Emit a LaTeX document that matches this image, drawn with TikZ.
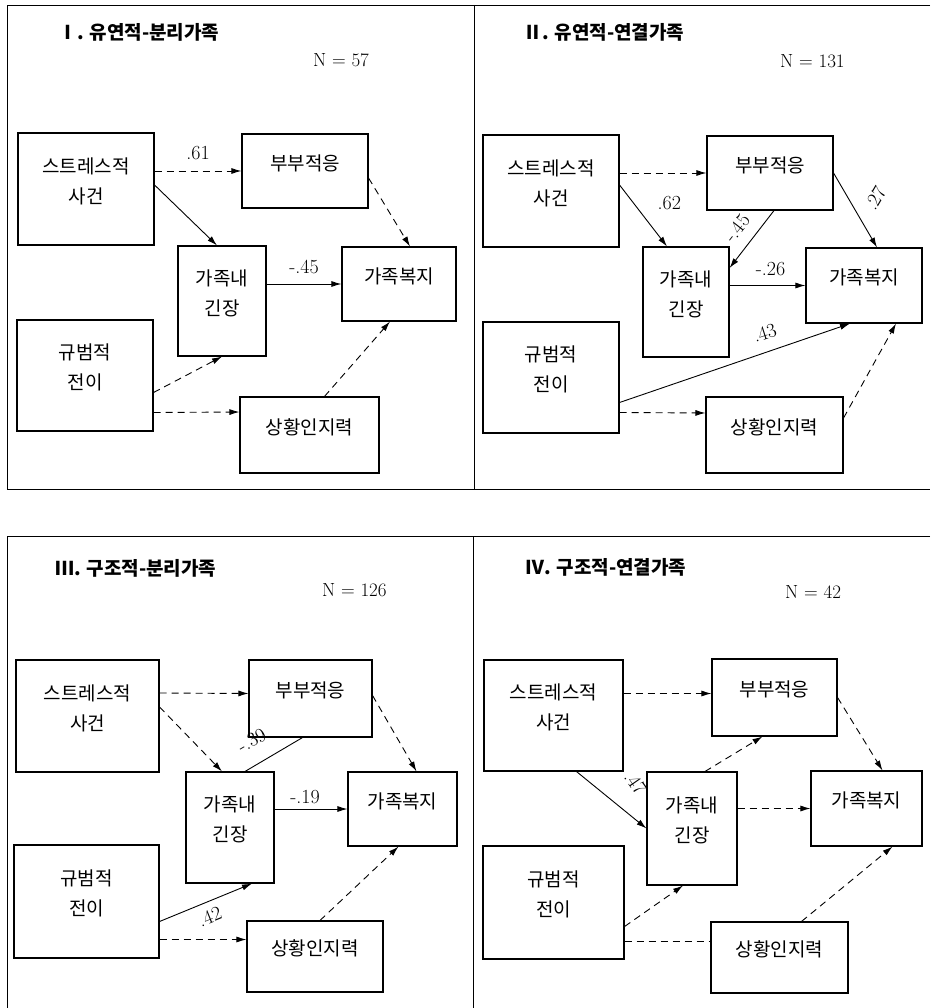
\documentclass[tikz,border=0pt]{standalone}
\usepackage{fontspec}
\newfontfamily\kr{Noto Sans CJK KR}
\usetikzlibrary{arrows.meta,fit}

\begin{document}
\begin{tikzpicture}[x=1pt,y=-1pt,
  box/.style={draw, line width=1.1pt, inner sep=0pt, align=left, font=\kr\fontsize{19}{30}\selectfont},
  sol/.style={line width=.9pt, -{Latex[length=10pt,width=6pt]}},
  das/.style={sol, dash pattern=on 7pt off 5pt},
  coef/.style={font=\fontsize{20}{20}\selectfont, inner sep=0pt},
  ttl/.style={anchor=west, font=\kr\bfseries\fontsize{19}{19}\selectfont, inner sep=0pt},
  nn/.style={anchor=west, font=\fontsize{19}{19}\selectfont, inner sep=0pt}]
\fill[white] (0,0) rectangle (930,1008);
\useasboundingbox (0,0) rectangle (930,1008);

% frames
\draw[line width=.9pt] (930,5) -- (7,5) -- (7,489) -- (930,489);
\draw[line width=.9pt] (474,5) -- (474,489);
\draw[line width=.9pt] (930,536) -- (7,536) -- (7,1008);
\draw[line width=.9pt] (473,536) -- (473,1008);

% panel I
\node[ttl] (hd1) at (58,32) {Ⅰ. 유연적-분리가족};
\node[nn] (nc1) at (313,60) {N = 57};
\node[box, fit={(18,133) (154,245)}] (s1) {스트레스적\\사건};
\node[box, fit={(242,134) (368,208)}] (b1) {부부적응};
\node[box, fit={(178,246) (266,356)}] (t1) {가족내\\긴장};
\node[box, fit={(342,247) (456,321)}] (w1) {가족복지};
\node[box, fit={(17,320) (153,431)}] (n1) {규범적\\전이};
\node[box, fit={(240,397) (379,473)}] (c1) {상황인지력};
\draw[das] (s1.east |- b1.west) -- (b1.west) node[coef, midway, yshift=18pt] {.61};
\draw[sol] ([yshift=4pt]s1.east) -- ([xshift=-5pt]t1.north);
\draw[sol] (t1.east |- w1.west) -- (w1.west) node[coef, midway, yshift=17pt] {-.45};
\draw[das] ([yshift=-7pt]b1.east) -- ([xshift=11pt]w1.north);
\draw[das] ([yshift=-17pt]n1.east) -- (t1.south);
\draw[das] ([yshift=-37pt]n1.east) -- ([yshift=23pt]c1.west);
\draw[das] ([xshift=15pt]c1.north) -- ([xshift=-9pt]w1.south);

% panel II
\node[ttl] (hd2) at (523,32) {Ⅱ. 유연적-연결가족};
\node[nn] (nc2) at (780,61) {N = 131};
\node[box, fit={(483,135) (619,247)}] (s2) {스트레스적\\사건};
\node[box, fit={(707,136) (833,210)}] (b2) {부부적응};
\node[box, fit={(643,247) (729,357)}] (t2) {가족내\\긴장};
\node[box, fit={(806,248) (922,323)}] (w2) {가족복지};
\node[box, fit={(483,322) (619,433)}] (n2) {규범적\\전이};
\node[box, fit={(706,397) (843,473)}] (c2) {상황인지력};
\draw[das] (s2.east |- b2.west) -- (b2.west);
\draw[sol] ([yshift=6pt]s2.east) -- ([xshift=-19pt]t2.north)
  node[coef, midway, xshift=26pt, yshift=13pt] {.62};
\draw[sol] ([xshift=4pt]b2.south) -- ([yshift=34pt]t2.east)
  node[coef, midway, xshift=-15pt, yshift=11pt, rotate=52] {-.45};
\draw[sol] (b2.east) -- ([xshift=13pt]w2.north)
  node[coef, midway, xshift=20pt, yshift=12pt, rotate=60] {.27};
\draw[sol] (t2.east |- w2.west) -- (w2.west) node[coef, midway, xshift=3pt, yshift=16pt] {-.26};
\draw[sol] ([yshift=-25pt]n2.east) -- ([xshift=-14pt]w2.south)
  node[coef, pos=.63, yshift=20pt, rotate=18] {.43};
\draw[das] ([yshift=-35pt]n2.east) -- ([yshift=22pt]c2.west);
\draw[das] ([yshift=17pt]c2.east) -- ([xshift=32pt]w2.south);

% panel III
\node[ttl] (hd3) at (55,568) {Ⅲ. 구조적-분리가족};
\node[nn] (nc3) at (322,590) {N = 126};
\node[box, fit={(16,660) (159,772)}] (s3) {스트레스적\\사건};
\node[box, fit={(249,660) (372,737)}] (b3) {부부적응};
\node[box, fit={(186,772) (274,883)}] (t3) {가족내\\긴장};
\node[box, fit={(348,772) (457,846)}] (w3) {가족복지};
\node[box, fit={(14,845) (159,958)}] (n3) {규범적\\전이};
\node[box, fit={(247,921) (383,992)}] (c3) {상황인지력};
\draw[das] ([yshift=23pt]s3.east) -- ([yshift=5pt]b3.west);
\draw[das] ([yshift=9pt]s3.east) -- ([xshift=-8pt]t3.north);
\draw[line width=.9pt] ([xshift=-8pt]b3.south) -- ([xshift=15pt]t3.north)
  node[coef, midway, xshift=-22pt, yshift=14pt, rotate=30] {-.39};
\draw[sol] (t3.east |- w3.west) -- (w3.west) node[coef, midway, xshift=-6pt, yshift=12pt] {-.19};
\draw[das] ([yshift=3pt]b3.east) -- ([xshift=14pt]w3.north);
\draw[sol] ([yshift=-20pt]n3.east) -- ([xshift=22pt]t3.south)
  node[coef, midway, xshift=4pt, yshift=-14pt, rotate=22] {.42};
\draw[das] ([yshift=-38pt]n3.east) -- ([yshift=17pt]c3.west);
\draw[das] ([xshift=5pt]c3.north) -- ([xshift=-4pt]w3.south);

% panel IV
\node[ttl] (hd4) at (525,567) {Ⅳ. 구조적-연결가족};
\node[nn] (nc4) at (785,592) {N = 42};
\node[box, fit={(484,660) (623,771)}] (s4) {스트레스적\\사건};
\node[box, fit={(712,659) (837,736)}] (b4) {부부적응};
\node[box, fit={(647,772) (737,885)}] (t4) {가족내\\긴장};
\node[box, fit={(811,771) (922,846)}] (w4) {가족복지};
\node[box, fit={(483,846) (624,959)}] (n4) {규범적\\전이};
\node[box, fit={(711,922) (848,993)}] (c4) {상황인지력};
\draw[das] ([yshift=22pt]s4.east) -- ([yshift=4pt]b4.west);
\draw[sol] ([xshift=23pt]s4.south) -- (t4.west)
  node[coef, midway, xshift=24pt, yshift=17pt, rotate=-55] {.47};
\draw[das] ([xshift=13pt]t4.north) -- ([xshift=-12pt]b4.south);
\draw[das] (t4.east |- w4.west) -- (w4.west);
\draw[das] (b4.east) -- ([xshift=16pt]w4.north);
\draw[das] ([yshift=-24pt]n4.east) -- ([xshift=-9pt]t4.south);
\draw[line width=.9pt, dash pattern=on 7pt off 5pt] ([yshift=-39pt]n4.east) -- ([yshift=16pt]c4.west);
\draw[das] ([xshift=22pt]c4.north) -- ([xshift=26pt]w4.south);
\end{tikzpicture}
\end{document}
